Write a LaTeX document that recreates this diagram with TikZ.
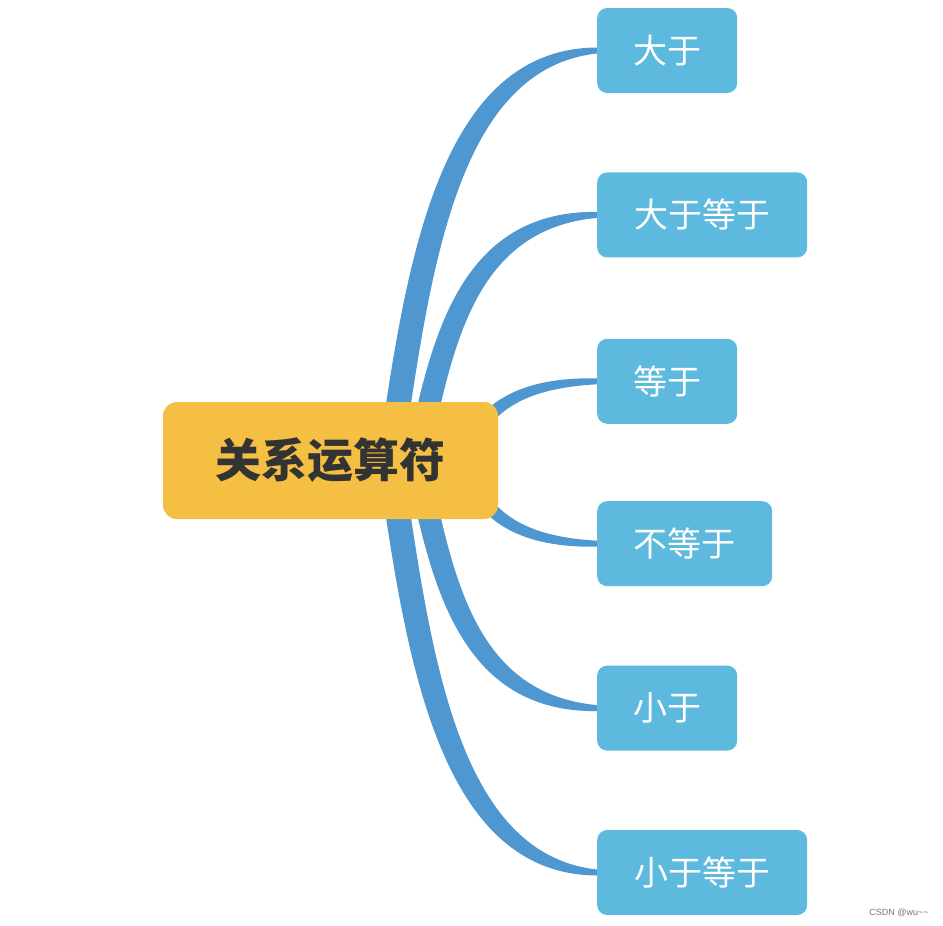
\documentclass[tikz,border=0pt]{standalone}
\usepackage{fontspec}
\usepackage{xcolor}
\usepackage{tikz}
\usetikzlibrary{positioning,calc,backgrounds}
\newfontfamily\cjk{Noto Sans CJK SC}
\setsansfont{Liberation Sans}
\definecolor{RootGold}{HTML}{F4BF42}
\definecolor{RootInk}{HTML}{333333}
\definecolor{LeafBlue}{HTML}{5DB9DD}
\definecolor{BranchBlue}{HTML}{4F97D1}
\tikzset{
  root/.style={fill=RootGold, rounded corners=14pt, text=RootInk,
    font=\cjk\bfseries\fontsize{46}{52}\selectfont,
    minimum width=335pt, minimum height=117pt, inner sep=0pt},
  leaf/.style={fill=LeafBlue, rounded corners=10pt, text=white,
    font=\cjk\fontsize{34}{40}\selectfont,
    minimum height=85pt, inner sep=0pt},
  branch/.style={fill=BranchBlue},
  watermark/.style={font=\sffamily\fontsize{9}{10}\selectfont, text=black!55}
}
% tapered curved branch: start coordinate, target node, half width at start
\newcommand{\branch}[3]{%
  \fill[branch] let \p1=(#1), \p2=(#2.west), \n1={sign(\y2-\y1)},
      \n2={\x2-\x1}, \n3={\y2-\y1} in
    (\x1-#3,\y1)
    .. controls ({\x1+0.13*\n2-#3},{\y1+0.46*\n3})
           and ({\x1+0.28*\n2-0.8*#3},{\y2-0.02*\n3+\n1*0.8*#3})
    .. (\x2,{\y2+\n1*3pt})
    -- (\x2,{\y2-\n1*3pt})
    .. controls ({\x1+0.28*\n2+0.8*#3},{\y2-0.02*\n3-\n1*0.8*#3})
           and ({\x1+0.13*\n2+#3},{\y1+0.46*\n3})
    .. (\x1+#3,\y1) -- cycle;}

\begin{document}
\begin{tikzpicture}[x=1pt, y=-1pt]
  \useasboundingbox (0,0) rectangle (943,926);
  \node[root] (relop) at (330.5,460.5) {关系运算符};
  \node[leaf, minimum width=140pt, anchor=west] (gt) at (597,50.5) {大于};
  \node[leaf, minimum width=210pt, below right=79pt and 0pt of gt.south west] (ge) {大于等于};
  \node[leaf, minimum width=140pt, below right=81pt and 0pt of ge.south west] (eq) {等于};
  \node[leaf, minimum width=175pt, below right=77pt and 0pt of eq.south west] (ne) {不等于};
  \node[leaf, minimum width=140pt, below right=79pt and 0pt of ne.south west] (lt) {小于};
  \node[leaf, minimum width=210pt, below right=79pt and 0pt of lt.south west] (le) {小于等于};
  \begin{scope}[on background layer]
    \branch{$(relop.center)+(62.5,-20)$}{gt}{12.5pt}
    \branch{$(relop.center)+(90.5,-20)$}{ge}{11.5pt}
    \branch{$(relop.center)+(130,0)$}{eq}{8pt}
    \branch{$(relop.center)+(130,0)$}{ne}{8pt}
    \branch{$(relop.center)+(90.5,20)$}{lt}{11.5pt}
    \branch{$(relop.center)+(62.5,20)$}{le}{12.5pt}
  \end{scope}
  \node[watermark] (csdn) at (899,913) {CSDN @wu\textasciitilde\textasciitilde};
\end{tikzpicture}
\end{document}
